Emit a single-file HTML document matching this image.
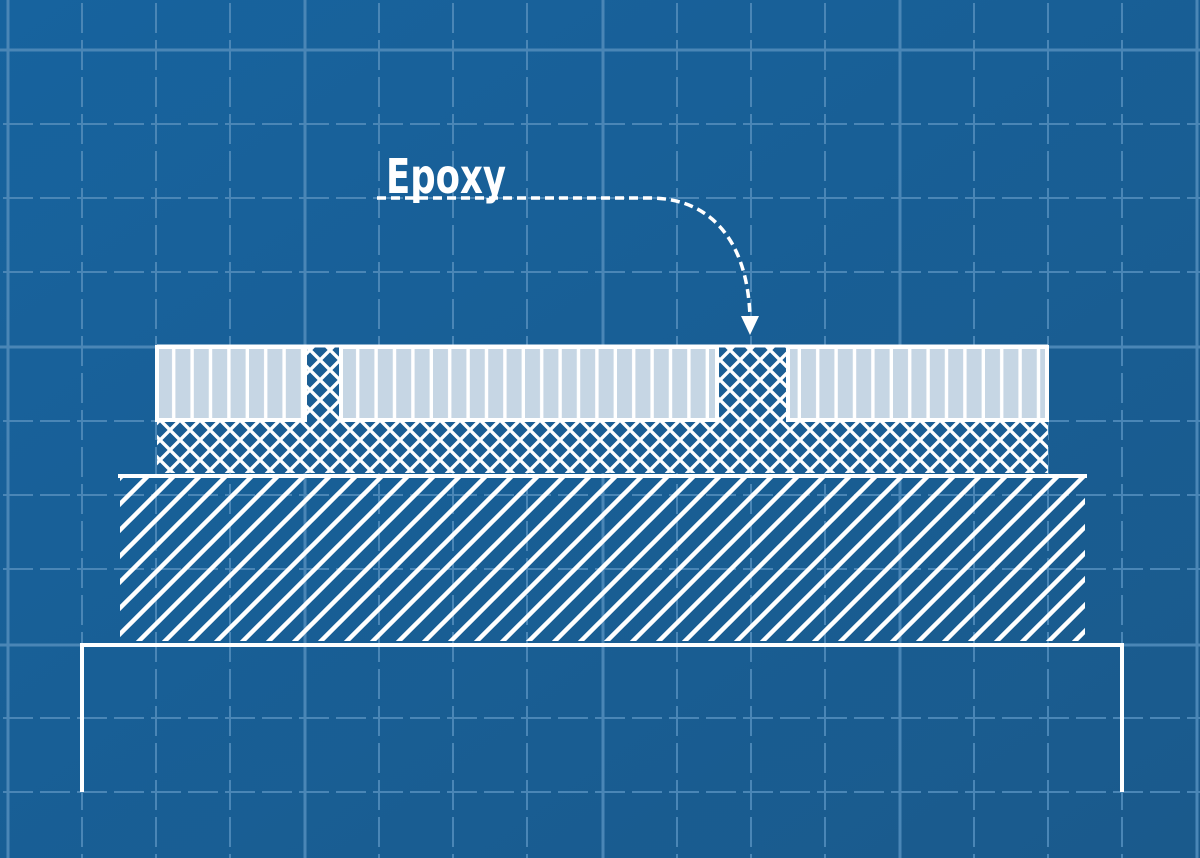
<!DOCTYPE html>
<html><head><style>html,body{margin:0;padding:0;background:#1a5e94;}svg{display:block}</style></head>
<body>
<svg width="1200" height="858" viewBox="0 0 1200 858" xmlns="http://www.w3.org/2000/svg">
<defs>
<linearGradient id="bg" x1="0" y1="0" x2="1" y2="1">
<stop offset="0" stop-color="#17639e"/><stop offset="1" stop-color="#1a5a8c"/>
</linearGradient>
<pattern id="vs" x="157" y="0" width="18.4" height="10" patternUnits="userSpaceOnUse">
<rect width="18.4" height="10" fill="#c6d6e4"/><rect x="15" width="3.4" height="10" fill="#fff"/>
</pattern>
<pattern id="xh" x="0" y="0" width="20" height="20" patternUnits="userSpaceOnUse">
<rect width="20" height="20" fill="#1b5e94"/>
<path d="M-3,-3 L23,23 M-3,17 L3,23 M17,-3 L23,3 M23,-3 L-3,23 M-3,3 L3,-3 M17,23 L23,17" stroke="#fff" stroke-width="3.4"/>
</pattern>
<pattern id="dg" x="0" y="0" width="26" height="26" patternUnits="userSpaceOnUse">
<path d="M-2,28 L28,-2 M-15,15 L15,-15 M11,41 L41,11" stroke="#fff" stroke-width="4.5"/>
</pattern>
</defs>
<rect width="1200" height="858" fill="url(#bg)"/>
<g stroke="#4a86b6" stroke-width="2" stroke-dasharray="30 7" stroke-dashoffset="-3">
<line x1="82" y1="0" x2="82" y2="858"/><line x1="156" y1="0" x2="156" y2="858"/><line x1="230" y1="0" x2="230" y2="858"/>
<line x1="379" y1="0" x2="379" y2="858"/><line x1="453" y1="0" x2="453" y2="858"/><line x1="527" y1="0" x2="527" y2="858"/>
<line x1="677" y1="0" x2="677" y2="858"/><line x1="751" y1="0" x2="751" y2="858"/><line x1="825" y1="0" x2="825" y2="858"/>
<line x1="974" y1="0" x2="974" y2="858"/><line x1="1048" y1="0" x2="1048" y2="858"/><line x1="1122" y1="0" x2="1122" y2="858"/>
<line x1="0" y1="124" x2="1200" y2="124"/><line x1="0" y1="198" x2="1200" y2="198"/><line x1="0" y1="272" x2="1200" y2="272"/>
<line x1="0" y1="421" x2="1200" y2="421"/><line x1="0" y1="495" x2="1200" y2="495"/><line x1="0" y1="569" x2="1200" y2="569"/>
<line x1="0" y1="718" x2="1200" y2="718"/><line x1="0" y1="792" x2="1200" y2="792"/>
</g>
<g stroke="#4a86b6" stroke-width="3">
<line x1="8" y1="0" x2="8" y2="858"/><line x1="305" y1="0" x2="305" y2="858"/><line x1="603" y1="0" x2="603" y2="858"/><line x1="900" y1="0" x2="900" y2="858"/><line x1="1197" y1="0" x2="1197" y2="858"/>
<line x1="0" y1="50" x2="1200" y2="50"/><line x1="0" y1="347" x2="1200" y2="347"/><line x1="0" y1="645" x2="1200" y2="645"/>
</g>
<rect x="157" y="346" width="891" height="127" fill="url(#xh)"/>
<g stroke="#fff" stroke-width="4" fill="url(#vs)">
<rect x="157" y="347" width="148" height="73"/>
<rect x="341" y="347" width="376" height="73"/>
<rect x="788" y="347" width="259" height="73"/>
</g>
<line x1="157" y1="346" x2="1048" y2="346" stroke="#fff" stroke-width="3"/>
<rect x="120" y="476" width="965" height="165" fill="url(#dg)"/>
<line x1="118" y1="476" x2="1087" y2="476" stroke="#fff" stroke-width="4"/>
<path d="M82,792 L82,645 L1122,645 L1122,792" fill="none" stroke="#fff" stroke-width="4"/>
<text x="386" y="193" font-family="'DejaVu Sans',sans-serif" font-weight="bold" font-size="48" fill="#fff" textLength="120" lengthAdjust="spacingAndGlyphs">Epoxy</text>
<path d="M377,198 L650,198 C710,198 748,240 750,318" fill="none" stroke="#fff" stroke-width="3.5" stroke-dasharray="9 5"/>
<path d="M741,316 L759,316 L750,335 Z" fill="#fff"/>
</svg>
</body></html>
